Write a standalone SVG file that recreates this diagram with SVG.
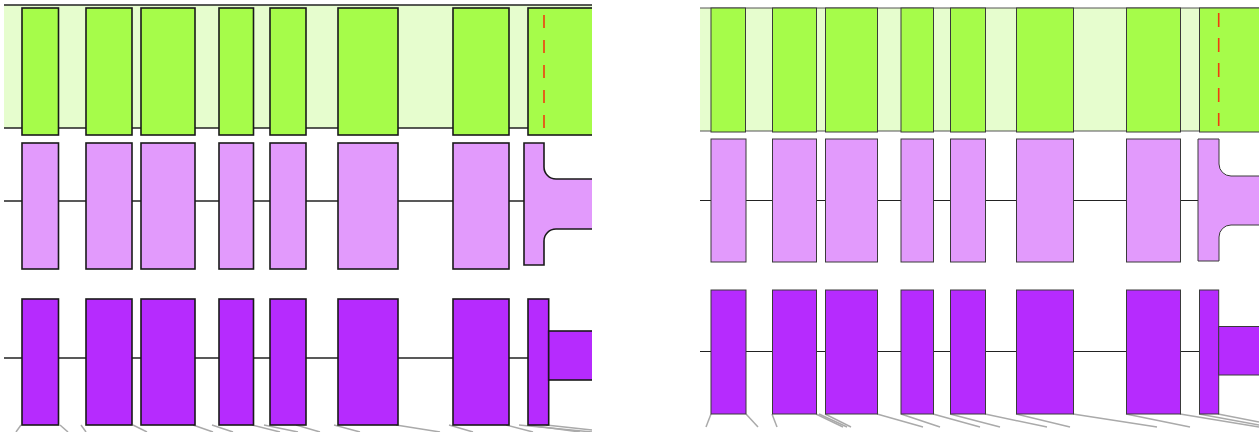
<svg xmlns="http://www.w3.org/2000/svg" width="1259" height="432" viewBox="0 0 1259 432">
<style>
.band{fill:#e6fdce;stroke:none}
.bl{stroke:#222;stroke-width:1.5;fill:none}
.bl2{stroke:#555;stroke-width:1;fill:none}
.g{fill:#a6fc4a}
.p{fill:#e29afc}
.v{fill:#b62bfe}
.L{stroke:#1a1a1a;stroke-width:1.6}
.R{stroke:#3a3a3a;stroke-width:1}
.red{stroke:#f03c10;stroke-width:1.6;fill:none}
.ax{stroke:#222;stroke-width:1.3;fill:none}
.ax2{stroke:#222;stroke-width:1;fill:none}
.cn{stroke:#aaa;stroke-width:1.5;fill:none}
</style>
<rect width="1259" height="432" fill="#fff"/>
<g id="connectors">
<line class="cn" x1="21" y1="425" x2="16" y2="432"/>
<line class="cn" x1="60" y1="425" x2="68" y2="432"/>
<line class="cn" x1="81" y1="425" x2="86" y2="432"/>
<line class="cn" x1="133" y1="425" x2="147" y2="432"/>
<line class="cn" x1="193" y1="425" x2="213" y2="432"/>
<line class="cn" x1="212" y1="425" x2="233" y2="432"/>
<line class="cn" x1="252" y1="425" x2="280" y2="432"/>
<line class="cn" x1="264" y1="425" x2="298" y2="432"/>
<line class="cn" x1="296" y1="425" x2="320" y2="432"/>
<line class="cn" x1="334" y1="425" x2="360" y2="432"/>
<line class="cn" x1="396" y1="425" x2="440" y2="432"/>
<line class="cn" x1="449" y1="425" x2="473" y2="432"/>
<line class="cn" x1="506" y1="425" x2="533" y2="432"/>
<line class="cn" x1="519" y1="425" x2="592" y2="432"/>
<line class="cn" x1="528" y1="425" x2="580" y2="432"/>
<line class="cn" x1="546" y1="425" x2="592" y2="430"/>
<line class="cn" x1="711" y1="414" x2="706" y2="427"/>
<line class="cn" x1="746" y1="414" x2="758" y2="427"/>
<line class="cn" x1="772" y1="414" x2="777" y2="427"/>
<line class="cn" x1="816" y1="414" x2="843" y2="427"/>
<line class="cn" x1="819" y1="414" x2="847" y2="427"/>
<line class="cn" x1="825" y1="414" x2="851" y2="427"/>
<line class="cn" x1="877" y1="414" x2="923" y2="427"/>
<line class="cn" x1="901" y1="414" x2="940" y2="427"/>
<line class="cn" x1="933" y1="414" x2="980" y2="427"/>
<line class="cn" x1="950" y1="414" x2="1000" y2="427"/>
<line class="cn" x1="985" y1="414" x2="1047" y2="427"/>
<line class="cn" x1="1016" y1="414" x2="1070" y2="427"/>
<line class="cn" x1="1073" y1="414" x2="1157" y2="427"/>
<line class="cn" x1="1126" y1="414" x2="1190" y2="427"/>
<line class="cn" x1="1180" y1="414" x2="1259" y2="427"/>
<line class="cn" x1="1199" y1="414" x2="1259" y2="425"/>
<line class="cn" x1="1218" y1="414" x2="1259" y2="422"/>
</g>
<g id="left-top-track">
<rect class="band" x="4" y="5" width="588" height="123"/>
<line class="bl" x1="4" y1="5" x2="592" y2="5"/>
<line class="bl" x1="4" y1="128" x2="592" y2="128"/>
<g id="L-g1"><rect class="g L" x="22" y="8" width="36.5" height="127"/></g>
<g id="L-g2"><rect class="g L" x="86" y="8" width="46" height="127"/></g>
<g id="L-g3"><rect class="g L" x="141" y="8" width="54" height="127"/></g>
<g id="L-g4"><rect class="g L" x="219" y="8" width="34.5" height="127"/></g>
<g id="L-g5"><rect class="g L" x="270" y="8" width="36" height="127"/></g>
<g id="L-g6"><rect class="g L" x="338" y="8" width="60" height="127"/></g>
<g id="L-g7"><rect class="g L" x="453" y="8" width="56" height="127"/></g>
<g id="L-g8"><rect class="g L" x="528" y="8" width="70" height="127"/></g>
<line class="red" x1="544" y1="15" x2="544" y2="128" stroke-dasharray="13 12"/>
</g>
<g id="left-mid-track">
<line class="ax" x1="4" y1="201" x2="524" y2="201"/>
<g id="L-p1"><rect class="p L" x="22" y="143" width="36.5" height="126"/></g>
<g id="L-p2"><rect class="p L" x="86" y="143" width="46" height="126"/></g>
<g id="L-p3"><rect class="p L" x="141" y="143" width="54" height="126"/></g>
<g id="L-p4"><rect class="p L" x="219" y="143" width="34.5" height="126"/></g>
<g id="L-p5"><rect class="p L" x="270" y="143" width="36" height="126"/></g>
<g id="L-p6"><rect class="p L" x="338" y="143" width="60" height="126"/></g>
<g id="L-p7"><rect class="p L" x="453" y="143" width="56" height="126"/></g>
<g id="L-p8"><path class="p L" d="M524,143 H544 V167 A12,12 0 0 0 556,179 H598 V229 H556 A12,12 0 0 0 544,241 V265 H524 Z"/></g>
</g>
<g id="left-bottom-track">
<line class="ax" x1="4" y1="358" x2="528" y2="358"/>
<g id="L-v1"><rect class="v L" x="22" y="299" width="36.5" height="126"/></g>
<g id="L-v2"><rect class="v L" x="86" y="299" width="46" height="126"/></g>
<g id="L-v3"><rect class="v L" x="141" y="299" width="54" height="126"/></g>
<g id="L-v4"><rect class="v L" x="219" y="299" width="34.5" height="126"/></g>
<g id="L-v5"><rect class="v L" x="270" y="299" width="36" height="126"/></g>
<g id="L-v6"><rect class="v L" x="338" y="299" width="60" height="126"/></g>
<g id="L-v7"><rect class="v L" x="453" y="299" width="56" height="126"/></g>
<g id="L-v8"><rect class="v L" x="528" y="299" width="20.7" height="126"/><rect class="v L" x="548.7" y="331" width="50" height="49"/></g>
</g>
<rect x="592" y="0" width="108" height="432" fill="#fff"/>
<g id="right-top-track">
<rect class="band" x="700" y="8" width="559" height="123"/>
<line class="bl2" x1="700" y1="8" x2="1259" y2="8"/>
<line class="bl2" x1="700" y1="131" x2="1259" y2="131"/>
<g id="R-g1"><rect class="g R" x="711" y="8" width="34.5" height="124"/></g>
<g id="R-g2"><rect class="g R" x="772.5" y="8" width="44" height="124"/></g>
<g id="R-g3"><rect class="g R" x="825.5" y="8" width="52" height="124"/></g>
<g id="R-g4"><rect class="g R" x="901" y="8" width="32.5" height="124"/></g>
<g id="R-g5"><rect class="g R" x="950.5" y="8" width="35" height="124"/></g>
<g id="R-g6"><rect class="g R" x="1016.5" y="8" width="57" height="124"/></g>
<g id="R-g7"><rect class="g R" x="1126.5" y="8" width="54" height="124"/></g>
<g id="R-g8"><rect class="g R" x="1199.5" y="8" width="65" height="124"/></g>
<line class="red" x1="1218.7" y1="13" x2="1218.7" y2="126" stroke-dasharray="14 11"/>
</g>
<g id="right-mid-track">
<line class="ax2" x1="700" y1="200.5" x2="1198" y2="200.5"/>
<g id="R-p1"><rect class="p R" x="711" y="139" width="35" height="123"/></g>
<g id="R-p2"><rect class="p R" x="772.5" y="139" width="44" height="123"/></g>
<g id="R-p3"><rect class="p R" x="825.5" y="139" width="52" height="123"/></g>
<g id="R-p4"><rect class="p R" x="901" y="139" width="32.5" height="123"/></g>
<g id="R-p5"><rect class="p R" x="950.5" y="139" width="35" height="123"/></g>
<g id="R-p6"><rect class="p R" x="1016.5" y="139" width="57" height="123"/></g>
<g id="R-p7"><rect class="p R" x="1126.5" y="139" width="54" height="123"/></g>
<g id="R-p8"><path class="p R" stroke-width="1.5" d="M1198,139 H1219 V164 A12,12 0 0 0 1231,176 H1265 V225 H1231 A12,12 0 0 0 1219,237 V261 H1198 Z"/></g>
</g>
<g id="right-bottom-track">
<line class="ax2" x1="700" y1="351.5" x2="1199" y2="351.5"/>
<g id="R-v1"><rect class="v R" x="711" y="290" width="35" height="124"/></g>
<g id="R-v2"><rect class="v R" x="772.5" y="290" width="44" height="124"/></g>
<g id="R-v3"><rect class="v R" x="825.5" y="290" width="52" height="124"/></g>
<g id="R-v4"><rect class="v R" x="901" y="290" width="32.5" height="124"/></g>
<g id="R-v5"><rect class="v R" x="950.5" y="290" width="35" height="124"/></g>
<g id="R-v6"><rect class="v R" x="1016.5" y="290" width="57" height="124"/></g>
<g id="R-v7"><rect class="v R" x="1126.5" y="290" width="54" height="124"/></g>
<g id="R-v8"><rect class="v R" x="1199.5" y="290" width="19.2" height="124"/><rect class="v R" x="1218.7" y="326.5" width="45" height="48.5"/></g>
</g>
</svg>
